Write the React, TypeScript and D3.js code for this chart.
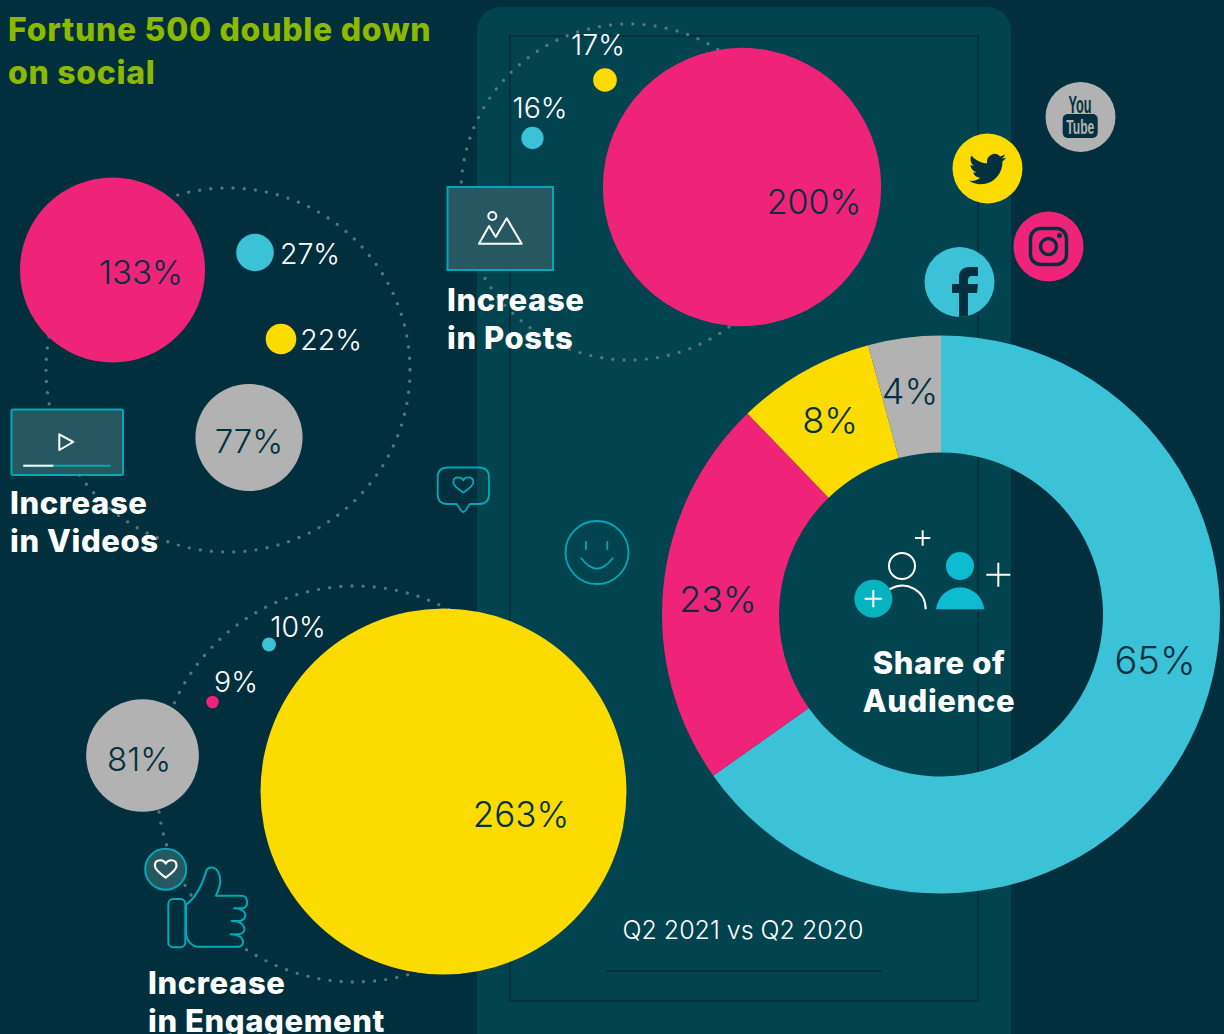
import React from 'react'
import { arc, pie, scaleLinear, scaleOrdinal } from 'd3'

const shareNames = ['Twitter', 'Facebook', 'YouTube', 'Instagram']
const shareValues = [65.2, 22.6, 8, 4.2]
const postsValues = [200, 17, 16]
const videosValues = [133, 27, 22, 77]
const engagementValues = [263, 81, 9, 10]
const socialNames = ['YouTube', 'Twitter', 'Instagram', 'Facebook']

const BG = '#012f3d'
const PANEL = '#01434f'
const LINE = '#01313f'
const PINK = '#ef2378'
const YELLOW = '#fcdb00'
const BLUE = '#3bc2d7'
const GREY = '#b2b2b2'
const TEAL = '#00a9b5'
const BOX = '#275761'
const INK = '#03303e'
const FONT = 'Inter, sans-serif'

const radius = scaleLinear().domain([0, 263]).range([0, 183])

const postsLayout = [
  { x: 742, y: 187, fill: PINK, lx: 814, ly: 214, size: 34, ink: INK },
  { x: 605, y: 80, fill: YELLOW, lx: 598, ly: 55, size: 28.5, ink: 'white' },
  { x: 532.5, y: 138, fill: BLUE, lx: 540, ly: 118, size: 28.5, ink: 'white' },
]
const videosLayout = [
  { x: 112.5, y: 270, fill: PINK, lx: 141, ly: 284, size: 33, ink: INK },
  { x: 255, y: 252.5, fill: BLUE, lx: 310, ly: 264, size: 28.5, ink: 'white' },
  { x: 281, y: 339, fill: YELLOW, lx: 331, ly: 350, size: 28.5, ink: 'white' },
  { x: 249, y: 437.5, fill: GREY, lx: 249, ly: 453, size: 33, ink: INK },
]
const engagementLayout = [
  { x: 443.5, y: 791.5, fill: YELLOW, lx: 521, ly: 827, size: 35, ink: INK },
  { x: 142.5, y: 755.5, fill: GREY, lx: 139, ly: 771, size: 33, ink: INK },
  { x: 212.5, y: 702, fill: PINK, lx: 236, ly: 692, size: 28.5, ink: 'white' },
  { x: 269, y: 644.5, fill: BLUE, lx: 298, ly: 637, size: 28.5, ink: 'white' },
]
const socialLayout = [
  { x: 1080.5, y: 117, fill: GREY },
  { x: 987.5, y: 168.5, fill: YELLOW },
  { x: 1048.5, y: 246.5, fill: PINK },
  { x: 959.5, y: 282, fill: BLUE },
]
const shareLabelSpots = [
  { x: 1155, y: 674, size: 38 },
  { x: 718, y: 612, size: 36 },
  { x: 830, y: 433, size: 36 },
  { x: 910, y: 404, size: 36 },
]

function Bubbles({ values, layout }: { values: number[]; layout: any[] }) {
  return (
    <g>
      {values.map((v, i) => (
        <circle key={i} cx={layout[i].x} cy={layout[i].y} r={radius(v)} fill={layout[i].fill} />
      ))}
      {values.map((v, i) => (
        <text key={i} x={layout[i].lx} y={layout[i].ly} textAnchor="middle" fontSize={layout[i].size} fontWeight={300} fill={layout[i].ink}>
          {v}%
        </text>
      ))}
    </g>
  )
}

function Heading({ x, y, lines, anchor }: { x: number; y: number; lines: string[]; anchor?: string }) {
  return (
    <g>
      {lines.map((t, i) => (
        <text key={t} x={x} y={y + i * 37.5} fontSize={31} fontWeight={800} letterSpacing={0.6} fill="white" textAnchor={anchor || 'start'}>
          {t}
        </text>
      ))}
    </g>
  )
}

const heart = 'M0 7 C-4 4 -10 0 -10 -4 C-10 -8 -7 -9 -5 -9 C-3 -9 -1 -8 0 -6 C1 -8 3 -9 5 -9 C7 -9 10 -8 10 -4 C10 0 4 4 0 7 Z'

export default function App() {
  const slices = pie<number>().sort(null)(shareValues)
  const ring = arc<any>().innerRadius(162).outerRadius(279)
  const sliceColor = scaleOrdinal<string, string>().domain(shareNames).range([BLUE, PINK, YELLOW, GREY])

  return (
    <div style={{ position: 'absolute', left: 0, top: 0 }}>
      <svg width={1224} height={1034} style={{ display: 'block', fontFamily: FONT }}>
        <defs>
          <clipPath id="fbClip">
            <circle cx={socialLayout[3].x} cy={socialLayout[3].y} r={35} />
          </clipPath>
        </defs>
        <rect width={1224} height={1034} fill={BG} />

        {/* phone */}
        <rect x={477} y={7} width={534} height={1050} rx={24} fill={PANEL} />
        <rect x={510} y={36} width={468} height={965} fill="none" stroke={LINE} strokeWidth={2} />
        <line x1={606} x2={882} y1={971} y2={971} stroke={LINE} strokeWidth={2} />

        {/* dotted rings */}
        <g fill="none" stroke="#557580" strokeWidth={3.4} strokeLinecap="round" strokeDasharray="0 11.2">
          <circle cx={629} cy={192} r={168} />
          <circle cx={228} cy={370} r={182} />
          <circle cx={355} cy={784} r={198} />
        </g>

        <text x={8} y={41} fontSize={32} fontWeight={800} letterSpacing={0.7} fill="#8cb800">Fortune 500 double down</text>
        <text x={8} y={84} fontSize={32} fontWeight={800} letterSpacing={0.7} fill="#8cb800">on social</text>

        <Bubbles values={postsValues} layout={postsLayout} />
        <Bubbles values={videosValues} layout={videosLayout} />
        <Bubbles values={engagementValues} layout={engagementLayout} />

        {/* donut */}
        <g transform="translate(941,614.5)">
          {slices.map((s, i) => (
            <path key={i} d={ring(s) as string} fill={sliceColor(shareNames[i])} />
          ))}
        </g>
        {shareValues.map((v, i) => (
          <text key={i} x={shareLabelSpots[i].x} y={shareLabelSpots[i].y} textAnchor="middle" fontSize={shareLabelSpots[i].size} fontWeight={300} fill={INK}>
            {Math.round(v)}%
          </text>
        ))}

        {/* social badges */}
        {socialNames.map((n, i) => (
          <circle key={n} cx={socialLayout[i].x} cy={socialLayout[i].y} r={35} fill={socialLayout[i].fill} />
        ))}
        <g fill={INK} textAnchor="middle">
          <text x={0} y={0} transform="translate(1080,113) scale(0.55,1)" fontSize={23} fontWeight={700} fontFamily="'Liberation Sans', sans-serif">You</text>
          <rect x={1062.7} y={114} width={35} height={24} rx={5} />
          <text x={0} y={0} transform="translate(1080.3,134) scale(0.58,1)" fontSize={21} fontWeight={700} fontFamily="'Liberation Sans', sans-serif" fill={GREY}>Tube</text>
        </g>
        <path
          transform="translate(969,150.5) scale(1.55)"
          fill={INK}
          d="M23.953 4.57a10 10 0 01-2.825.775 4.958 4.958 0 002.163-2.723c-.951.555-2.005.959-3.127 1.184a4.92 4.92 0 00-8.384 4.482C7.69 8.095 4.067 6.13 1.64 3.162a4.822 4.822 0 00-.666 2.475c0 1.71.87 3.213 2.188 4.096a4.904 4.904 0 01-2.228-.616v.06a4.923 4.923 0 003.946 4.827 4.996 4.996 0 01-2.212.085 4.936 4.936 0 004.604 3.417 9.867 9.867 0 01-6.102 2.105c-.39 0-.779-.023-1.17-.067a13.995 13.995 0 007.557 2.209c9.053 0 13.998-7.496 13.998-13.985 0-.21 0-.42-.015-.63A9.935 9.935 0 0024 4.59z"
        />
        <g fill="none" stroke={INK} strokeWidth={3.4}>
          <rect x={1030.5} y={228.5} width={36} height={36} rx={10} />
          <circle cx={1048.5} cy={246.5} r={8} />
        </g>
        <circle cx={1059.5} cy={235.5} r={2.5} fill={INK} />
        <path
          clipPath="url(#fbClip)"
          fill={INK}
          d="M959 320 V293 H952 V284 H959 V277 C959 270 964 267 970 267 H978 V276 H972 C969 276 968 278 968 280 V284 H978 L977 293 H968 V320 Z"
        />

        {/* posts icon */}
        <rect x={447.5} y={187} width={105.5} height={83} fill={BOX} stroke={TEAL} strokeWidth={2} />
        <g fill="none" stroke="white" strokeWidth={2}>
          <circle cx={492.3} cy={216} r={4} />
          <path d="M479 243.7 L489 226 L495.7 237 L506.7 218.3 L521.7 243.7 Z" strokeLinejoin="round" />
        </g>

        {/* videos icon */}
        <rect x={11.5} y={409.5} width={111.5} height={65.5} rx={1.5} fill={BOX} stroke={TEAL} strokeWidth={2} />
        <path d="M59.3 434.3 L73.3 442 L59.3 450 Z" fill="none" stroke="white" strokeWidth={2} strokeLinejoin="round" />
        <line x1={23.3} x2={110.7} y1={465.7} y2={465.7} stroke={TEAL} strokeWidth={2} />
        <line x1={23.3} x2={53.3} y1={465.7} y2={465.7} stroke="white" strokeWidth={2} />

        {/* floating outlines on the phone */}
        <g fill="none" stroke={TEAL} strokeWidth={1.8} strokeLinecap="round" strokeLinejoin="round">
          <path d="M447.7 467.5 H479 Q489 467.5 489 477.5 V494 Q489 504 479 504 H470 L465 511 Q463.3 513 461.6 511 L456.6 504 H447.7 Q437.7 504 437.7 494 V477.5 Q437.7 467.5 447.7 467.5 Z" />
          <path d={heart} transform="translate(463.3,486) scale(1,0.95)" />
          <circle cx={597} cy={552.5} r={31.5} />
          <line x1={586} x2={586} y1={542} y2={549} />
          <line x1={607.3} x2={607.3} y1={542} y2={549} />
          <path d="M581.3 558.3 Q597 579 612.7 558.3" />
        </g>

        {/* engagement icon, drawn in 3x units, filled so the ring stays behind it */}
        <g transform="translate(130,840) scale(0.3333)" fill={BG} stroke={TEAL} strokeWidth={6} strokeLinejoin="round" strokeLinecap="round">
          <path d="M168 195 C200 170 218 130 228 95 C233 78 255 78 264 95 C278 120 268 145 258 167 H335 C356 167 358 205 335 205 H312 C355 205 355 243 325 243 H305 C352 243 352 283 325 283 H302 C350 285 345 320 325 320 H205 C185 320 168 300 168 275 Z" />
          <rect x={115} y={177} width={51} height={145} rx={15} />
        </g>
        <circle cx={165.7} cy={869.3} r={20.5} fill={BOX} stroke={TEAL} strokeWidth={2} />
        <path d={heart} transform="translate(165.7,870) scale(1.08)" fill="none" stroke="white" strokeWidth={2} strokeLinejoin="round" />

        {/* audience icon, drawn in 3x units */}
        <g transform="translate(830,510) scale(0.3333)">
          <circle cx={216} cy={168} r={39} fill="none" stroke="white" strokeWidth={6} />
          <path d="M178 238 C228 210 287 240 287 298" fill="none" stroke="white" strokeWidth={6} />
          <circle cx={130} cy={266} r={57} fill="#06b4c0" />
          <circle cx={390} cy={168} r={42} fill="#0fbbd0" />
          <path d="M318 298 A73 75 0 0 1 463 298 Z" fill="#0fbbd0" />
          <path d="M255 84 H301 M278 61 V107 M469 194 H541 M505 158 V230 M104 266 H156 M130 240 V292" stroke="white" strokeWidth={6} fill="none" />
        </g>

        <Heading x={447} y={311} lines={['Increase', 'in Posts']} />
        <Heading x={10} y={514} lines={['Increase', 'in Videos']} />
        <Heading x={148} y={994} lines={['Increase', 'in Engagement']} />
        <Heading x={939} y={674} lines={['Share of', 'Audience']} anchor="middle" />

        <text x={743} y={939} textAnchor="middle" fontSize={25} fontWeight={300} fill="white">Q2 2021 vs Q2 2020</text>
      </svg>
    </div>
  )
}
